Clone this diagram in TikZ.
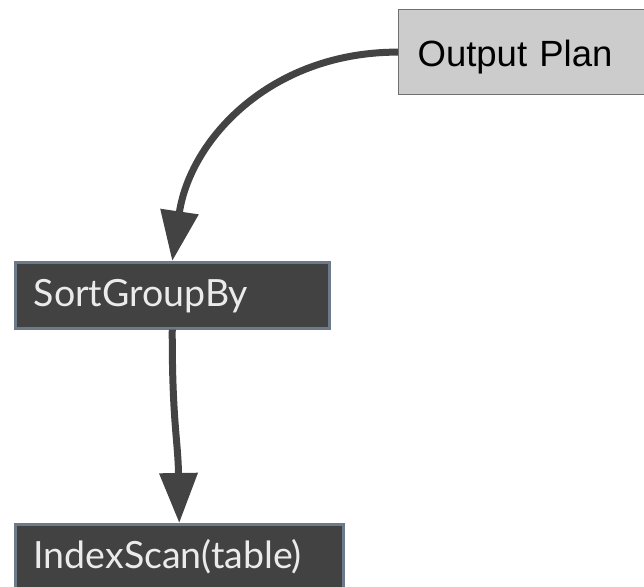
\documentclass[tikz,border=0pt]{standalone}
\usepackage{fontspec}
\setmainfont{Liberation Sans}
\newfontfamily\latofont{Lato}
\usetikzlibrary{arrows.meta}
\definecolor{darkfill}{HTML}{424242}
\definecolor{slateborder}{HTML}{6C7A89}
\definecolor{boxtext}{HTML}{EBEBEB}
\definecolor{arrowgray}{HTML}{434343}
\definecolor{lightfill}{HTML}{CCCCCC}
\definecolor{lightborder}{HTML}{707070}
\tikzset{
  darkbox/.style={draw=slateborder, line width=2.5pt, fill=darkfill, text=boxtext,
    font=\latofont\fontsize{37.5}{42}\selectfont, anchor=north west,
    inner xsep=18.5pt, inner ysep=0pt, minimum height=66pt, align=left,
    text height=30pt, text depth=8pt},
  lightbox/.style={draw=lightborder, line width=1.2pt, fill=lightfill, text=black,
    font=\fontsize{36.5}{42}\selectfont, anchor=north west,
    inner xsep=19pt, inner ysep=0pt, minimum height=85pt, align=left,
    text height=36pt, text depth=7pt},
  flow/.style={draw=arrowgray, line width=7pt,
    -{Triangle[length=50pt, width=37pt]}}
}
\begin{document}
\begin{tikzpicture}[x=1pt, y=-1pt]
\useasboundingbox (0,0) rectangle (644,586);
\node[lightbox, text width=260pt] (op) at (398,9) {Output Plan};
\node[darkbox, text width=277pt] (sg) at (14,261) {SortGroupBy};
\node[darkbox, text width=291pt] (is) at (14,523) {IndexScan(table)};
\draw[flow] (op.west) .. controls (270,52) and (190,140) .. (sg.north);
\draw[flow] (sg.south) .. controls (172,420) and (178,440) .. (is.north);
\end{tikzpicture}
\end{document}
